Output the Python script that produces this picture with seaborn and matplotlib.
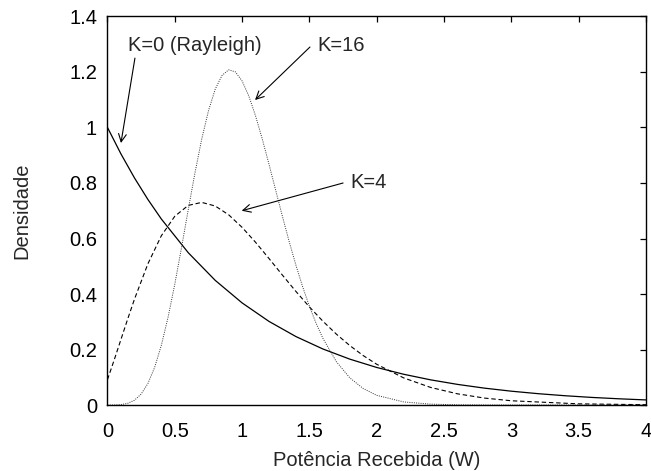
import matplotlib
matplotlib.use("Agg")
import matplotlib.pyplot as plt
import seaborn as sns
import pandas as pd

# ---- data ----
x_k0 = [0.0, 0.1, 0.2, 0.3, 0.4, 0.6, 0.8, 1.0, 1.2, 1.4, 1.6, 1.8, 2.0, 2.2, 2.4,
        2.6, 2.8, 3.0, 3.2, 3.4, 3.6, 3.8, 4.0]
y_k0 = [1.0, 0.9048, 0.8187, 0.7408, 0.6703, 0.5488, 0.4493, 0.3679, 0.3012, 0.2466,
        0.2019, 0.1653, 0.1353, 0.1108, 0.0907, 0.0743, 0.0608, 0.0498, 0.0408,
        0.0334, 0.0273, 0.0224, 0.0183]

x_k4 = [0.0, 0.05, 0.1, 0.15, 0.2, 0.3, 0.4, 0.5, 0.6, 0.7, 0.8, 0.9, 1.0, 1.1, 1.2,
        1.3, 1.4, 1.5, 1.6, 1.7, 1.8, 1.9, 2.0, 2.2, 2.4, 2.6, 2.8, 3.0, 3.5, 4.0]
y_k4 = [0.0916, 0.1626, 0.2362, 0.3097, 0.3808, 0.5086, 0.6099, 0.6802, 0.7193,
        0.7301, 0.7172, 0.6855, 0.6401, 0.5863, 0.5278, 0.4678, 0.4091, 0.3535,
        0.3020, 0.2555, 0.2142, 0.1780, 0.1468, 0.0977, 0.0634, 0.0403, 0.0250,
        0.0153, 0.0042, 0.0011]

x_k16 = [0.0, 0.05, 0.1, 0.15, 0.2, 0.25, 0.3, 0.35, 0.4, 0.45, 0.5, 0.55, 0.6, 0.65,
         0.7, 0.75, 0.8, 0.85, 0.9, 0.95, 1.0, 1.05, 1.1, 1.15, 1.2, 1.25, 1.3, 1.35,
         1.4, 1.45, 1.5, 1.55, 1.6, 1.7, 1.8, 1.9, 2.0, 2.2, 2.4, 2.6, 2.8, 3.0, 3.5, 4.0]
y_k16 = [0.0, 0.0002, 0.0015, 0.0060, 0.0171, 0.0393, 0.0774, 0.1352, 0.2150, 0.3162,
         0.4355, 0.5673, 0.7039, 0.8369, 0.9583, 1.0600, 1.1378, 1.1872, 1.2078,
         1.2004, 1.1676, 1.1132, 1.0417, 0.9581, 0.8670, 0.7727, 0.6788, 0.5883,
         0.5034, 0.4255, 0.3556, 0.2939, 0.2404, 0.1562, 0.0979, 0.0593, 0.0349,
         0.0111, 0.0032, 0.0008, 0.0002, 0.0000, 0.0, 0.0]

x_ticks = [0, 0.5, 1, 1.5, 2, 2.5, 3, 3.5, 4]
x_tick_labels = ["0", "0.5", "1", "1.5", "2", "2.5", "3", "3.5", "4"]
y_ticks = [0, 0.2, 0.4, 0.6, 0.8, 1.0, 1.2, 1.4]
y_tick_labels = ["0", "0.2", "0.4", "0.6", "0.8", "1", "1.2", "1.4"]

x_label = "Potência Recebida (W)"
y_label = "Densidade"
labels = ["K=0 (Rayleigh)", "K=4", "K=16"]

# ---- plotting ----
sns.set_style("white")
plt.rcParams["font.family"] = ["Liberation Sans", "DejaVu Sans"]
FS = 14.5

fig = plt.figure(figsize=(6.51, 4.71), dpi=100)
ax = fig.add_axes([0.1651, 0.1401, 0.8272, 0.8249])

sns.lineplot(x=x_k0, y=y_k0, ax=ax, color="black", linewidth=0.9, estimator=None)
sns.lineplot(x=x_k4, y=y_k4, ax=ax, color="black", linewidth=0.8, estimator=None,
             linestyle=(0, (4, 2.5)))
sns.lineplot(x=x_k16, y=y_k16, ax=ax, color="#333333", linewidth=0.7, estimator=None,
             linestyle=(0, (1, 1.3)))

ax.set_xlim(0, 4)
ax.set_ylim(0, 1.4)
ax.set_xticks(x_ticks)
ax.set_xticklabels(x_tick_labels)
ax.set_yticks(y_ticks)
ax.set_yticklabels(y_tick_labels)
ax.tick_params(direction="in", length=4.3, width=0.9, top=True, right=True,
               labelsize=FS, colors="black")
ax.tick_params(axis="x", pad=12.5)
ax.tick_params(axis="y", pad=7.5)
for s in ax.spines.values():
    s.set_visible(True)
    s.set_color("black")
    s.set_linewidth(1.0)

ax.set_xlabel(x_label, fontsize=FS, labelpad=7)
ax.set_ylabel(y_label, fontsize=FS, labelpad=27)

arrow = dict(arrowstyle="->", color="black", lw=0.8, mutation_scale=14,
             shrinkA=0, shrinkB=0)
# K=0
ax.text(0.152, 1.297, labels[0], fontsize=FS, ha="left", va="center")
ax.annotate("", xy=(0.100, 0.944), xytext=(0.204, 1.250), arrowprops=arrow)
# K=16
ax.text(1.556, 1.297, labels[2], fontsize=FS, ha="left", va="center")
ax.annotate("", xy=(1.096, 1.099), xytext=(1.504, 1.290), arrowprops=arrow)
# K=4
ax.text(1.807, 0.800, labels[1], fontsize=FS, ha="left", va="center")
ax.annotate("", xy=(0.997, 0.700), xytext=(1.750, 0.800), arrowprops=arrow)

fig.savefig("out.png", dpi=100)
